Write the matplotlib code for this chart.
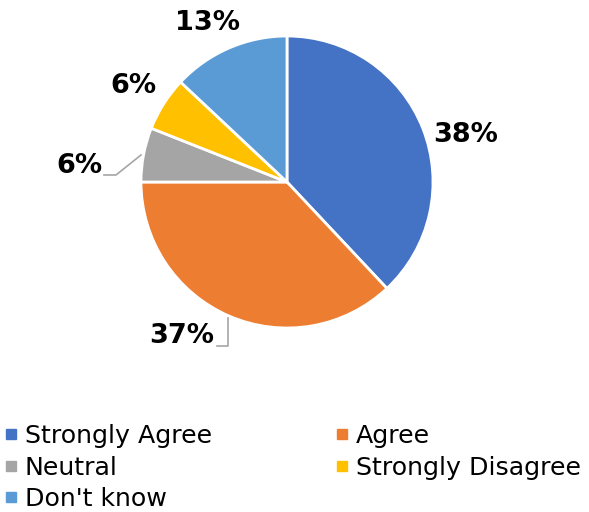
import matplotlib.pyplot as plt
from matplotlib.lines import Line2D

labels = ["Strongly Agree", "Agree", "Neutral", "Strongly Disagree", "Don't know"]
values = [38, 37, 6, 6, 13]
colors = ["#4472C4", "#ED7D31", "#A5A5A5", "#FFC000", "#5B9BD5"]
pct_text = ["38%", "37%", "6%", "6%", "13%"]

fig = plt.figure(figsize=(5.89, 5.12), dpi=100)
# pie centre at (287,182) px, radius 146 px
ax = fig.add_axes([(287 - 146) / 589, (512 - 182 - 146) / 512, 292 / 589, 292 / 512])
ax.pie(values, colors=colors, startangle=90, counterclock=False,
       wedgeprops=dict(edgecolor="white", linewidth=2))
ax.set_xlim(-1, 1)
ax.set_ylim(-1, 1)
ax.set_aspect("auto")

def px(x, y):
    return ((x - 287) / 146, (182 - y) / 146)

# label positions (in pixels of the original image)
label_pos = [(466, 135), (182, 336), (79, 166), (133, 86), (207, 23)]
for txt, (x, y) in zip(pct_text, label_pos):
    ax.text(*px(x, y), txt, ha="center", va="center", fontsize=19.5,
            fontweight="bold", clip_on=False)

# leader lines
lc = "#A6A6A6"
ax.add_line(Line2D(*zip(px(104, 175), px(116, 175), px(141, 155)), color=lc, lw=1.2, clip_on=False))
ax.add_line(Line2D(*zip(px(217, 346), px(228, 346), px(228, 318)), color=lc, lw=1.2, clip_on=False))

# legend fills row by row in the reference
order = [0, 2, 4, 1, 3]
handles = [Line2D([], [], marker="s", linestyle="none", markersize=6.5,
                  markerfacecolor=colors[i], markeredgecolor=colors[i]) for i in order]
fig.legend(handles, [labels[i] for i in order], ncol=2, loc="upper left",
           bbox_to_anchor=(0.008, 0.172), frameon=False, fontsize=18.2,
           handlelength=0.5, handletextpad=0.3, columnspacing=4.9,
           labelspacing=0.3, borderaxespad=0, borderpad=0)

fig.savefig("out.png", dpi=100)
